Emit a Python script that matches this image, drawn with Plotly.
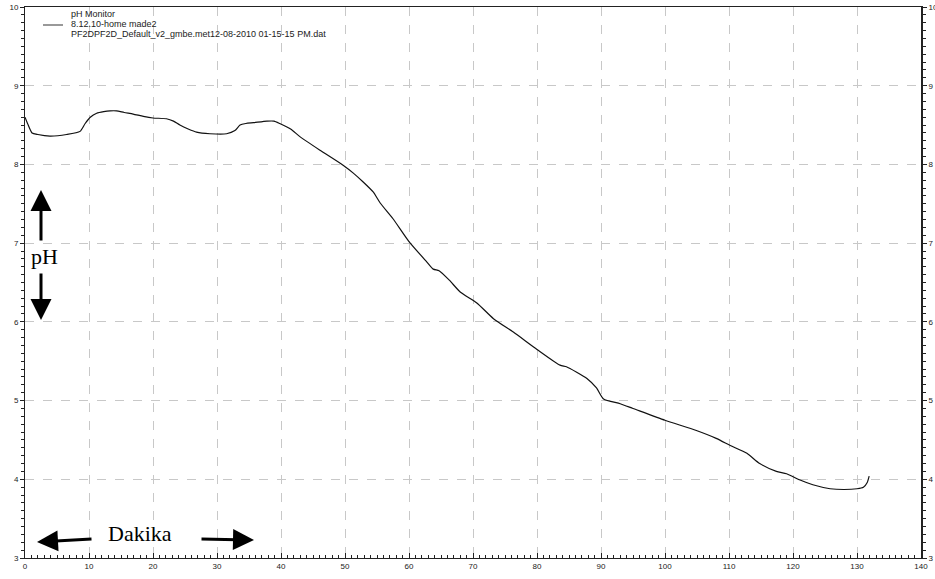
import plotly.graph_objects as go

# Data
minutes = [0, 0.5, 1.1, 2, 3.9, 6.5, 8.6, 9.4, 10.2, 11.2, 12.3, 13.3, 14.3, 15.5, 16.9, 18.5,
           20, 22.1, 23.2, 24.2, 25.5, 26.8, 28.9, 31.5, 32.8, 33.6, 34.5, 35.7, 37.8,
           38.9, 39.8, 41.5, 43, 46.1, 49.7, 51.3, 52.8, 54.4, 55.5, 57.5, 60, 62.8,
           63.8, 64.7, 66.3, 68, 70.6, 73.2, 76.3, 80, 83.6, 84.6, 86.2, 87.8, 89.3,
           90.4, 93, 95, 100, 104.9, 108, 110.2, 112.8, 114.8, 117.4, 119, 121.1,
           123.1, 125.8, 128, 130, 131, 131.6, 131.9]
ph = [8.60, 8.50, 8.40, 8.38, 8.36, 8.38, 8.42, 8.52, 8.60, 8.65, 8.67, 8.68, 8.68, 8.66, 8.64, 8.61,
      8.59, 8.58, 8.55, 8.50, 8.45, 8.41, 8.39, 8.39, 8.43, 8.50, 8.52, 8.53, 8.55,
      8.55, 8.52, 8.45, 8.35, 8.18, 7.99, 7.89, 7.78, 7.65, 7.51, 7.31, 7.02, 6.76,
      6.67, 6.65, 6.53, 6.38, 6.24, 6.04, 5.87, 5.65, 5.45, 5.43, 5.36, 5.28, 5.16,
      5.02, 4.96, 4.90, 4.75, 4.62, 4.52, 4.43, 4.33, 4.20, 4.10, 4.07, 3.99,
      3.93, 3.88, 3.87, 3.88, 3.90, 3.96, 4.04]

x_ticks = list(range(0, 141, 10))
y_ticks = list(range(3, 11))

legend_lines = ["pH Monitor", "8.12.10-home made2",
                "PF2DPF2D_Default_v2_gmbe.met12-08-2010 01-15-15 PM.dat"]

x_minor = [v for v in range(0, 141) if v % 10 != 0]
y_minor = [round(3 + i * 0.1, 2) for i in range(71) if i % 10 != 0]

fig = go.Figure()
fig.add_trace(go.Scatter(x=minutes, y=ph, mode="lines", line=dict(color="#111111", width=1.2,
                         shape="spline", smoothing=0.6), hoverinfo="skip", showlegend=False))
fig.add_trace(go.Scatter(x=minutes, y=ph, mode="lines", yaxis="y2",
                         line=dict(color="rgba(0,0,0,0)", width=0), hoverinfo="skip",
                         showlegend=False))

tickfont = dict(family="Liberation Sans, Arial", size=8, color="#222222")
grid = dict(showgrid=True, gridcolor="#c8c8c8", griddash="dash", gridwidth=1)

fig.update_layout(
    width=935, height=579,
    margin=dict(l=25, r=14, t=7, b=21),
    paper_bgcolor="white", plot_bgcolor="white",
    xaxis=dict(range=[0, 140], tickmode="array", tickvals=x_ticks,
               ticktext=[str(v) for v in x_ticks], automargin=False,
               showline=True, linecolor="#222222", linewidth=1, mirror=True,
               ticks="inside", ticklen=5, tickcolor="#222222", tickfont=tickfont,
               minor=dict(tickmode="array", tickvals=x_minor, ticks="inside", ticklen=3,
                          tickcolor="#222222", showgrid=False),
               zeroline=False, **grid),
    yaxis=dict(range=[3, 10], tickmode="array", tickvals=y_ticks,
               ticktext=[str(v) for v in y_ticks], automargin=False,
               showline=True, linecolor="#222222", linewidth=1,
               ticks="outside", ticklen=4, tickcolor="#222222", tickfont=tickfont,
               minor=dict(tickmode="array", tickvals=y_minor, ticks="outside", ticklen=3,
                          tickcolor="#222222", showgrid=False),
               zeroline=False, **grid),
    yaxis2=dict(range=[3, 10], tickmode="array", tickvals=y_ticks,
                ticktext=[str(v) for v in y_ticks], automargin=False,
                overlaying="y", side="right", showgrid=False,
                showline=True, linecolor="#222222", linewidth=2,
                ticks="outside", ticklen=4, tickcolor="#222222", tickfont=tickfont,
                minor=dict(tickmode="array", tickvals=y_minor, ticks="outside", ticklen=3,
                           tickcolor="#222222", showgrid=False),
                zeroline=False),
)

H = 579 - 7 - 21
W = 935 - 25 - 14


def px_x(p):
    return (p - 25) / W


def px_y(p):
    return 1 - (p - 7) / H


# Legend block
for i, t in enumerate(legend_lines):
    fig.add_annotation(x=px_x(69), y=px_y(14 + i * 10), xref="paper", yref="paper", text=t,
                       showarrow=False, xanchor="left", yanchor="middle",
                       font=dict(family="Liberation Sans, Arial", size=9, color="#222222"))
fig.add_shape(type="line", xref="paper", yref="paper",
              x0=px_x(43), x1=px_x(63), y0=px_y(25), y1=px_y(25),
              line=dict(color="#555555", width=1.2))

serif = dict(family="Liberation Serif, Times New Roman", size=22, color="black")
fig.add_annotation(x=px_x(44), y=px_y(256), xref="paper", yref="paper", text="pH",
                   showarrow=False, font=serif, xanchor="center", yanchor="middle")
fig.add_annotation(x=px_x(140), y=px_y(533), xref="paper", yref="paper", text="Dakika",
                   showarrow=False, font=serif, xanchor="center", yanchor="middle")

arrows = [((41, 190), (41, 242)), ((41, 320), (41, 272)),
          ((37, 542), (93, 539)), ((254, 540), (200, 539))]
for (tip, tail) in arrows:
    fig.add_annotation(x=px_x(tip[0]), y=px_y(tip[1]), xref="paper", yref="paper",
                       ax=tail[0] - tip[0], ay=tail[1] - tip[1], text="",
                       showarrow=True, arrowhead=2, arrowwidth=3, arrowsize=1.4,
                       arrowcolor="black")

fig.write_html("out.html", config={"displayModeBar": False},
               post_script="document.body.style.margin='0';document.body.style.overflow='hidden';")
